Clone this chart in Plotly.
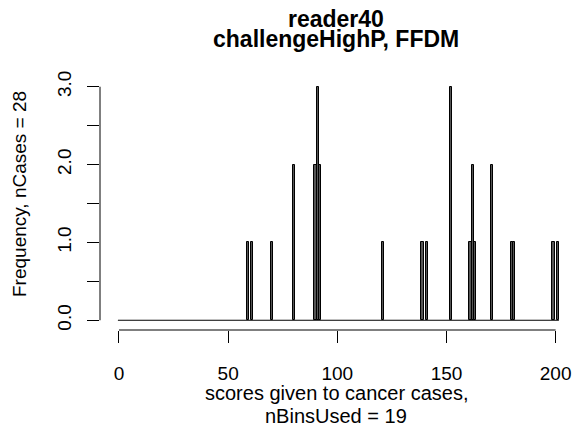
import plotly.graph_objects as go

# ---- data ----
bin_scores = [59, 61, 70, 80, 90, 91, 92, 121, 139, 141, 152, 161, 162, 163, 171, 180, 181, 199, 201]
bin_counts = [1, 1, 1, 2, 2, 3, 2, 1, 1, 1, 3, 1, 2, 1, 2, 1, 1, 1, 1]
score_span = [0, 201]          # histogram support (score range)
x_ticks = [0, 50, 100, 150, 200]
y_ticks = [0, 0.5, 1, 1.5, 2, 2.5, 3]
y_tick_text = ["0.0", "", "1.0", "", "2.0", "", "3.0"]
title_lines = ["reader40", "challengeHighP, FFDM"]
xlab_lines = ["scores given to cancer cases,", "nBinsUsed = 19"]
ylab = "Frequency, nCases = 28"

FONT = "Liberation Sans, Arial, Helvetica, sans-serif"
W, H = 574, 429
ML, MR, MT, MB = 100, 2, 77, 99
plot_h = H - MT - MB

fig = go.Figure()

# zero baseline over the whole histogram support
fig.add_trace(go.Scatter(
    x=[score_span[0] - 0.5, score_span[1] + 0.5], y=[0, 0],
    mode="lines", line=dict(color="black", width=1.2),
    hoverinfo="skip", showlegend=False))

fig.add_trace(go.Bar(
    x=bin_scores, y=bin_counts, width=1.0,
    marker=dict(color="#555555", line=dict(color="black", width=1)),
    showlegend=False))

# R-style axis lines spanning first to last tick only
fig.add_shape(type="line", xref="x", yref="paper",
              x0=x_ticks[0], x1=x_ticks[-1], y0=0, y1=0,
              line=dict(color="black", width=1))
fig.add_shape(type="line", xref="paper", yref="y",
              x0=0, x1=0, y0=y_ticks[0], y1=y_ticks[-1],
              line=dict(color="black", width=1))

ann = []
title_y = [18.5, 39]
for t, yc in zip(title_lines, title_y):
    ann.append(dict(text="<b>" + t + "</b>", xref="paper", yref="paper",
                    x=0.5, y=1, xanchor="center", yanchor="middle",
                    yshift=MT - yc, showarrow=False,
                    font=dict(family=FONT, size=23, color="black")))
xlab_y = [393, 416]
for t, yc in zip(xlab_lines, xlab_y):
    ann.append(dict(text=t, xref="paper", yref="paper",
                    x=0.5, y=0, xanchor="center", yanchor="middle",
                    yshift=-(yc - (H - MB)), showarrow=False,
                    font=dict(family=FONT, size=20, color="black")))
ann.append(dict(text=ylab, xref="paper", yref="paper",
                x=0, y=(H - MB - 194) / plot_h, xanchor="center", yanchor="middle",
                xshift=-(ML - 19), textangle=-90, showarrow=False,
                font=dict(family=FONT, size=19, color="black")))

fig.update_layout(
    width=W, height=H,
    margin=dict(l=ML, r=MR, t=MT, b=MB),
    paper_bgcolor="white", plot_bgcolor="white",
    bargap=0,
    annotations=ann,
    xaxis=dict(range=[-8.7, 207.5], tickvals=x_ticks, ticktext=[str(v) for v in x_ticks],
               ticks="outside", ticklen=12, tickwidth=1, tickcolor="black",
               showline=False, showgrid=False, zeroline=False,
               ticklabelstandoff=14,
               tickfont=dict(family=FONT, size=19, color="black")),
    yaxis=dict(range=[-0.125, 3.125], tickvals=y_ticks, ticktext=y_tick_text,
               tickangle=-90,
               ticks="outside", ticklen=12, tickwidth=1, tickcolor="black",
               showline=False, showgrid=False, zeroline=False,
               ticklabelstandoff=8,
               tickfont=dict(family=FONT, size=19, color="black")),
)

fig.write_html("out.html",
               config={"displayModeBar": False},
               post_script="document.body.style.margin='0';document.body.style.overflow='hidden';")
